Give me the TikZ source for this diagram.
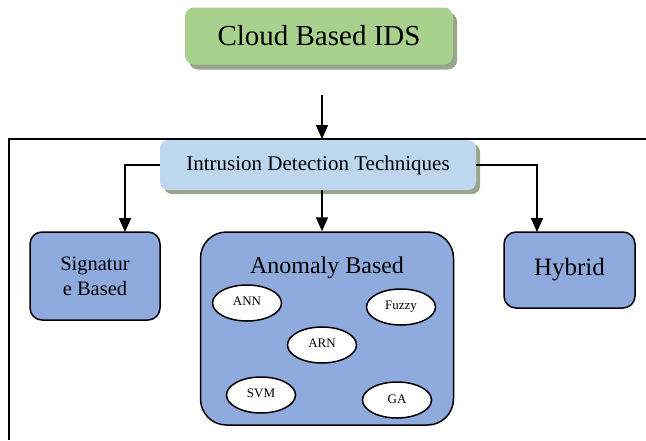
\documentclass[tikz,border=0pt]{standalone}
\usepackage{fontspec}
\setmainfont{Liberation Serif}
\usetikzlibrary{arrows.meta,shapes.geometric,shadows}
\definecolor{gfill}{HTML}{A9D18E}
\definecolor{gshadow}{HTML}{98A68B}
\definecolor{lbfill}{HTML}{BDD7EE}
\definecolor{bfill}{HTML}{8FAADC}
\begin{document}
\begin{tikzpicture}[x=1pt,y=-1pt,
  conn/.style={line width=1.5pt,-{Triangle[width=12pt,length=14pt]}},
  topbox/.style={rectangle,rounded corners=9pt,fill=gfill,inner sep=0pt,
    drop shadow={shadow xshift=4pt,shadow yshift=-5pt,fill=gshadow,opacity=1}},
  techbox/.style={rectangle,rounded corners=8pt,fill=lbfill,inner sep=0pt,
    drop shadow={shadow xshift=4pt,shadow yshift=-4pt,fill=gshadow,opacity=1}},
  catbox/.style={rectangle,draw=black,line width=1.5pt,fill=bfill,inner sep=0pt,align=center},
  algo/.style={ellipse,draw=black,line width=1.5pt,fill=white,inner sep=0pt,
    minimum width=69pt,minimum height=36pt,font=\fontsize{13}{15}\selectfont}
]
\useasboundingbox (0,0) rectangle (646,440);
% frame
\draw[line width=1.3pt] (646,139) -- (9,139) -- (9,440);
% nodes
\node[topbox,minimum width=268pt,minimum height=57pt,font=\fontsize{29}{34}\selectfont] (cloud) at (319,36) {Cloud Based IDS};
\node[techbox,minimum width=316pt,minimum height=50pt,font=\fontsize{21}{25}\selectfont] (idt) at (318,165) {Intrusion Detection Techniques};
\node[catbox,rounded corners=12pt,minimum width=130pt,minimum height=88pt,font=\fontsize{20.5}{25}\selectfont] (sig) at (95,276) {Signatur\\e Based};
\node[catbox,rounded corners=26pt,minimum width=253pt,minimum height=193pt] (ano) at (327,328.5) {};
\node[font=\fontsize{24}{28}\selectfont,inner sep=0pt] (anotitle) at (327,268) {Anomaly Based};
\node[catbox,rounded corners=12pt,minimum width=131pt,minimum height=76pt,font=\fontsize{25}{29}\selectfont] (hyb) at (569.5,270) {Hybrid};
\node[algo] (ann) at (247,303) {\raisebox{4pt}{ANN}};
\node[algo] (fuzzy) at (401,307) {\raisebox{4pt}{Fuzzy}};
\node[algo] (arn) at (322,345) {\raisebox{3pt}{ARN}};
\node[algo] (svm) at (261,395) {\raisebox{4pt}{SVM}};
\node[algo] (ga) at (397,400) {\raisebox{2pt}{GA}};
% connectors
\coordinate (cstart) at (322,95);
\coordinate (cend) at (322,139);
\coordinate (sigtop) at (125,232);
\coordinate (hybtop) at (537,232);
\draw[conn] (cstart) -- (cend);
\draw[conn] (idt.west) -| (sigtop);
\draw[conn] (cend |- idt.south) -- (cend |- ano.north);
\draw[conn] (idt.east) -| (hybtop);
\end{tikzpicture}
\end{document}
